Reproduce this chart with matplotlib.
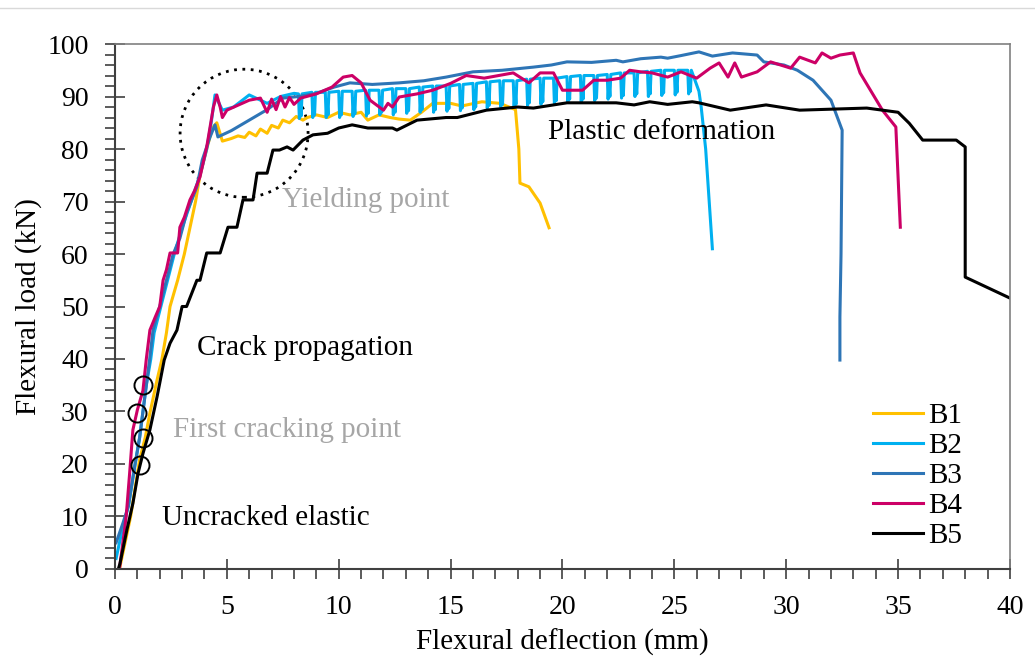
import matplotlib
matplotlib.use("Agg")
import matplotlib.pyplot as plt
from matplotlib.patches import Ellipse
from matplotlib.lines import Line2D
from matplotlib.ticker import MultipleLocator

plt.rcParams['font.family'] = ['Liberation Serif', 'DejaVu Serif']

# load-deflection curves of the five beams (mm, kN)
b1_x = [0.2, 0.35, 0.7, 1.1, 1.35, 1.56, 1.88, 2.1, 2.3, 2.46, 2.8, 3.1, 3.35, 3.6, 3.8, 4.1, 4.35, 4.55,
        4.8, 5.2, 5.5, 5.8, 6.0, 6.3, 6.5, 6.8, 7.0, 7.3, 7.5, 7.8, 8.1, 8.4, 8.6, 9.0, 9.5, 10.0, 10.5,
        11.0, 11.3, 11.8, 12.3, 12.7, 13.2, 13.7, 14.2, 15.0, 15.5, 16.4, 17.2, 17.9, 18.05, 18.1, 18.5,
        19.0, 19.4]
b1_y = [0, 3, 10, 20.8, 25, 29.7, 36, 40, 45, 50, 55, 60, 65, 70, 75, 80, 84, 85,
        81.5, 82, 82.5, 82.2, 83.2, 82.5, 83.8, 83, 84.5, 84, 85.5, 85, 86.2, 85.5, 86, 86.5, 86, 87, 86.5,
        87, 85.5, 86.5, 86, 85.7, 85.5, 87, 88.7, 88.7, 88.2, 89, 88.7, 87.5, 80, 73.5, 72.8,
        69.7, 65]

# B2: rise, then the saw-tooth plateau, then failure
b2_pts = [(0.05, 2), (0.3, 7), (0.6, 12), (0.9, 20), (1.1, 25), (1.25, 30), (1.4, 35), (1.6, 40),
          (1.75, 45), (2.05, 50), (2.35, 55), (2.65, 60), (3.0, 65), (3.4, 70), (3.8, 75), (4.1, 80),
          (4.3, 85), (4.47, 90.3), (4.8, 87.4), (5.3, 88), (6.0, 90.3), (6.8, 88.7), (7.4, 90), (8.0, 90.6),
          (8.2, 90.5), (8.24, 85.8), (8.28, 89.0), (8.32, 86.3), (8.36, 90.5),
          (8.8, 90.8), (8.84, 86.0), (8.88, 89.3), (8.92, 86.5), (8.96, 90.8),
          (9.4, 90.8), (9.44, 86.0), (9.48, 89.3), (9.52, 86.5), (9.56, 90.8),
          (10.0, 91.0), (10.04, 86.0), (10.08, 89.5), (10.12, 86.5), (10.16, 91.0),
          (10.6, 91.0), (10.64, 86.2), (10.68, 89.5), (10.72, 86.7), (10.76, 91.0),
          (11.2, 91.2), (11.24, 86.3), (11.28, 89.7), (11.32, 86.8), (11.36, 91.2),
          (11.8, 91.2), (11.84, 86.5), (11.88, 89.7), (11.92, 87.0), (11.96, 91.2),
          (12.4, 91.5), (12.44, 86.5), (12.48, 90.0), (12.52, 87.0), (12.56, 91.5),
          (13.0, 91.5), (13.04, 86.8), (13.08, 90.0), (13.12, 87.3), (13.16, 91.5),
          (13.6, 91.8), (13.64, 87.0), (13.68, 90.3), (13.72, 87.5), (13.76, 91.8),
          (14.2, 92.0), (14.24, 87.0), (14.28, 90.5), (14.32, 87.5), (14.36, 92.0),
          (14.8, 92.0), (14.84, 87.2), (14.88, 90.5), (14.92, 87.7), (14.96, 92.0),
          (15.4, 92.3), (15.44, 87.3), (15.48, 90.8), (15.52, 87.8), (15.56, 92.3),
          (16.0, 92.5), (16.04, 87.5), (16.08, 91.0), (16.12, 88.0), (16.16, 92.5),
          (16.6, 92.8), (16.64, 87.8), (16.68, 91.3), (16.72, 88.3), (16.76, 92.8),
          (17.2, 93.0), (17.24, 88.0), (17.28, 91.5), (17.32, 88.5), (17.36, 93.0),
          (17.8, 93.0), (17.84, 88.0), (17.88, 91.5), (17.92, 88.5), (17.96, 93.0),
          (18.4, 93.3), (18.44, 88.3), (18.48, 91.8), (18.52, 88.8), (18.56, 93.3),
          (19.0, 93.5), (19.04, 88.5), (19.08, 92.0), (19.12, 89.0), (19.16, 93.5),
          (19.6, 93.5), (19.64, 88.7), (19.68, 92.0), (19.72, 89.2), (19.76, 93.5),
          (20.2, 93.8), (20.24, 89.0), (20.28, 92.3), (20.32, 89.5), (20.36, 93.8),
          (20.8, 94.0), (20.84, 89.0), (20.88, 92.5), (20.92, 89.5), (20.96, 94.0),
          (21.4, 94.0), (21.44, 89.2), (21.48, 92.5), (21.52, 89.7), (21.56, 94.0),
          (22.0, 94.2), (22.04, 89.5), (22.08, 92.7), (22.12, 90.0), (22.16, 94.2),
          (22.6, 94.5), (22.64, 89.7), (22.68, 93.0), (22.72, 90.2), (22.76, 94.5),
          (23.2, 94.5), (23.24, 90.0), (23.28, 93.0), (23.32, 90.5), (23.36, 94.5),
          (23.8, 94.8), (23.84, 90.0), (23.88, 93.3), (23.92, 90.5), (23.96, 94.8),
          (24.4, 95.0), (24.44, 90.2), (24.48, 93.5), (24.52, 90.7), (24.56, 95.0),
          (25.0, 95.0), (25.04, 90.3), (25.08, 93.5), (25.12, 90.8), (25.16, 95.0),
          (25.6, 95.0), (25.64, 90.5), (25.68, 93.5), (25.72, 91.0), (25.76, 95.0),
          (26.1, 91.0), (26.2, 88.0), (26.4, 80.0), (26.7, 61.0)]
b2_x = [p[0] for p in b2_pts]
b2_y = [p[1] for p in b2_pts]

b3_x = [0.05, 0.36, 0.6, 0.9, 1.1, 1.25, 1.4, 1.55, 1.7, 2.0, 2.3, 2.6, 2.9, 3.2, 3.66, 3.9, 4.25, 4.47,
        4.6, 5.2, 6.0, 6.8, 7.5, 8.2, 9.0, 9.8, 10.5, 11.5, 12.7, 13.8, 14.8, 16.0, 17.3, 18.7, 19.5,
        20.2, 21.3, 22.4, 22.7, 23.5, 24.4, 24.7, 25.3, 26.1, 26.7, 27.6, 28.7, 29.0, 29.9, 30.5, 31.2,
        32.0, 32.5, 32.45, 32.4, 32.4]
b3_y = [5, 8.8, 12, 20, 25, 30, 35, 40, 45.5, 50, 55, 60, 63, 67.8, 72.8, 77.9, 82.3, 84.6,
        82.3, 83.5, 85.5, 87.5, 89.7, 90, 90.6, 91.8, 92.6, 92.3, 92.6, 93, 93.7, 94.7, 95, 95.6, 96,
        96.6, 96.5, 96.9, 96.6, 97.2, 97.5, 97.3, 97.8, 98.5, 97.7, 98.3, 97.9, 96.6, 96, 95, 93.1,
        89.3, 83.6, 60, 48, 39.8]

b4_x = [0.2, 0.35, 0.5, 0.65, 0.8, 1.0, 1.25, 1.4, 1.56, 1.8, 2.0, 2.15, 2.3, 2.46, 2.8, 2.9, 3.1, 3.35,
        3.55, 3.8, 4.1, 4.4, 4.55, 4.7, 4.8, 5.0, 6.0, 6.5, 6.8, 7.0, 7.2, 7.4, 7.6, 7.8, 8.0, 8.3, 9.0,
        9.7, 10.2, 10.6, 11.0, 11.4, 12.0, 12.2, 12.4, 12.7, 13.5, 14.2, 15.0, 15.7, 16.5, 17.8, 18.5,
        19.0, 19.6, 20.0, 20.9, 21.4, 22.0, 22.6, 23.0, 23.5, 24.0, 24.7, 25.3, 26.0, 26.6, 27.0, 27.4,
        27.7, 28.0, 28.7, 29.3, 30.2, 30.6, 31.3, 31.6, 32.0, 32.4, 33.0, 33.3, 34.3, 34.9, 35.1]
b4_y = [0, 5, 10, 18, 26.5, 30.3, 34, 40, 45.5, 48, 50, 55, 57, 60.2, 60.2, 65.1, 67, 70.3,
        72, 74.7, 80.4, 88, 90.3, 88, 86, 87.4, 89.3, 89.7, 87, 89.5, 87.5, 90, 88, 89.8, 88.5, 89.7, 90.5,
        91.8, 93.7, 94, 92.6, 89.3, 87.4, 88.7, 88, 89.9, 90.5, 91.2, 92.5, 94, 93.5, 94.5, 92.6,
        94.5, 94.5, 91.2, 91.2, 93.1, 93.1, 93.5, 95, 94.7, 94.5, 93.7, 94.7, 93.5, 95.4, 96.4, 93.7,
        96.4, 93.7, 94.7, 96.6, 95.4, 97.5, 96.4, 98.3, 97.3, 97.9, 98.3, 94.5, 87.4, 84.2, 65.1]

b5_x = [0.15, 0.22, 0.53, 0.8, 1.03, 1.25, 1.56, 1.88, 2.0, 2.2, 2.46, 2.77, 3.0, 3.2, 3.66, 3.8, 4.1,
        4.7, 5.05, 5.45, 5.72, 6.17, 6.35, 6.8, 7.06, 7.35, 7.69, 7.96, 8.4, 8.85, 9.5, 10.0, 10.6, 11.3,
        12.4, 12.6, 13.5, 14.8, 15.3, 16.6, 18.0, 18.7, 20.2, 22.4, 23.2, 23.9, 24.7, 25.8, 26.1, 27.5,
        29.1, 30.6, 33.6, 35.0, 35.5, 36.1, 37.6, 38.0, 38.0, 40.0]
b5_y = [0, 1, 7.4, 12.5, 18.2, 22, 26.5, 32.8, 35.4, 39.8, 43, 45.5, 50, 50, 55, 55, 60.2,
        60.2, 65.1, 65.1, 70.3, 70.3, 75.4, 75.4, 79.8, 79.8, 80.4, 79.8, 81.7, 82.7, 83, 84, 84.6, 84,
        84, 83.6, 85.5, 86, 86, 87.4, 88, 87.8, 88.8, 88.8, 88.4, 89, 88.5, 89, 88.8, 87.4,
        88.4, 87.4, 87.8, 87, 84.9, 81.7, 81.7, 80.4, 55.6, 51.6]

series = [("B1", b1_x, b1_y, "#FFC000"),
          ("B2", b2_x, b2_y, "#00B0F0"),
          ("B3", b3_x, b3_y, "#2E75B6"),
          ("B4", b4_x, b4_y, "#CC0066"),
          ("B5", b5_x, b5_y, "black")]

# first cracking points
crack_x = [1.25, 0.98, 1.25, 1.1]
crack_y = [35, 29.7, 25, 19.8]

fig = plt.figure(figsize=(10.35, 6.69), dpi=100)
ax = fig.add_axes([0.1111, 0.1495, 0.8647, 0.7847])

for name, xs, ys, c in series:
    ax.plot(xs, ys, color=c, lw=2.2, label=name, solid_joinstyle='round')

ax.plot(crack_x, crack_y, 'o', ms=13, mfc='none', mec='black', mew=1.4)
ax.add_patch(Ellipse((5.77, 83), 5.72, 24.4, fill=False, ec='black', lw=2, ls=(0, (1, 2))))

ax.text(19.35, 83.2, "Plastic deformation", fontsize=21, va='center')
ax.text(7.46, 70.3, "Yielding point", fontsize=21, va='center', color='#A6A6A6')
ax.text(3.66, 42.1, "Crack propagation", fontsize=21, va='center')
ax.text(2.6, 26.5, "First cracking point", fontsize=21, va='center', color='#A6A6A6')
ax.text(2.1, 9.7, "Uncracked elastic", fontsize=21, va='center')

ax.set_xlim(0, 40)
ax.set_ylim(0, 100)
ax.xaxis.set_major_locator(MultipleLocator(5))
ax.xaxis.set_minor_locator(MultipleLocator(1))
ax.yaxis.set_major_locator(MultipleLocator(10))
ax.yaxis.set_minor_locator(MultipleLocator(2))
ax.tick_params(which='major', direction='inout', length=14, width=1.2, labelsize=20,
               color='#404040')
ax.tick_params(axis='x', which='major', pad=12)
ax.tick_params(axis='y', which='major', pad=12)
ax.tick_params(which='minor', direction='out', length=7, width=1.2, color='#404040')

for s in ['left', 'bottom']:
    ax.spines[s].set_color('#404040')
    ax.spines[s].set_linewidth(1.5)
for s in ['top', 'right']:
    ax.spines[s].set_color('#808080')
    ax.spines[s].set_linewidth(1.2)

ax.set_xlabel("Flexural deflection (mm)", fontsize=21, labelpad=6)
ax.set_ylabel("Flexural load (kN)", fontsize=21, labelpad=4)

ax.legend(loc='upper left', bbox_to_anchor=(873 / 1035, 1 - 403 / 669), bbox_transform=fig.transFigure,
          frameon=False, fontsize=21, handlelength=1.7, handletextpad=0.2, labelspacing=0.12,
          borderpad=0, borderaxespad=0)

# thin rule along the top of the page
fig.add_artist(Line2D([0, 1], [1 - 8 / 669, 1 - 8 / 669], color='#D9D9D9', lw=1))

fig.savefig("out.png", dpi=100)
